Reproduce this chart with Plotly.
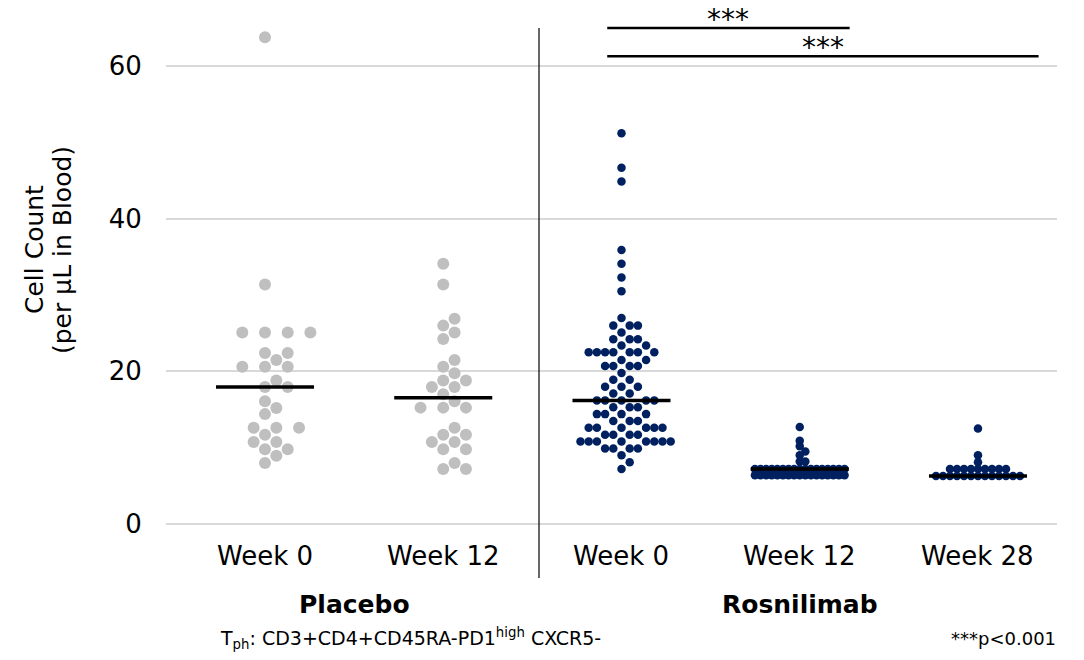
import numpy as np
import plotly.graph_objects as go

# ---- data -------------------------------------------------------------
categories = ["Week 0", "Week 12", "Week 0", "Week 12", "Week 28"]
group_names = ["Placebo", "Rosnilimab"]
group_members = [[0, 1], [2, 3, 4]]

placebo_w0 = [63.8, 31.4, 25.1, 25.1, 25.1, 25.1, 22.4, 22.4, 21.5, 20.6, 20.6,
              20.6, 18.8, 17.95, 17.95, 16.1, 15.2, 14.4, 12.6, 12.6, 12.6, 11.7,
              10.75, 10.75, 9.8, 9.8, 8.95, 8.0]
placebo_w12 = [34.1, 31.4, 26.9, 26.0, 25.1, 24.25, 21.5, 20.6, 19.75, 18.8, 18.8,
               17.95, 17.95, 17.0, 16.1, 15.25, 15.25, 15.25, 12.6, 11.7, 11.7,
               10.75, 10.75, 9.8, 9.8, 8.0, 7.2, 7.2]
rosni_w0 = [51.2, 46.7, 44.9, 35.9, 34.1, 32.3, 30.5, 27.0,
            26.0, 26.0, 26.0, 25.1, 24.2, 24.2, 24.2, 23.4, 23.4,
            22.5, 22.5, 22.5, 22.5, 22.5, 22.5, 22.5, 21.5, 21.5,
            20.7, 20.7, 20.7, 20.7, 19.8, 18.9, 18.9, 18.0, 18.0, 18.0,
            17.1, 17.1, 16.2, 16.2, 16.2, 16.2, 16.2, 15.3, 15.3, 15.3,
            14.4, 14.4, 14.4, 14.4, 13.5, 13.5, 13.5,
            12.6, 12.6, 12.6, 12.6, 12.6, 12.6, 11.7, 11.7, 11.7, 11.7,
            10.8, 10.8, 10.8, 10.8, 10.8, 10.8, 10.8, 10.8,
            9.9, 9.9, 9.9, 9.9, 9.0, 8.1, 7.2]
rosni_w12 = [12.7, 10.9, 10.2, 9.5, 9.0, 8.2, 8.2,
             7.2, 7.2, 7.2, 7.2, 7.2, 7.2, 7.2, 7.2, 7.2, 7.2, 7.2, 7.2, 7.2,
             7.2, 7.2, 7.2, 7.2,
             6.4, 6.4, 6.4, 6.4, 6.4, 6.4, 6.4, 6.4, 6.4, 6.4, 6.4, 6.4, 6.4,
             6.4, 6.4, 6.4, 6.4]
rosni_w28 = [12.5, 9.0, 8.1,
             7.2, 7.2, 7.2, 7.2, 7.2, 7.2, 7.2, 7.2, 7.2,
             6.3, 6.3, 6.3, 6.3, 6.3, 6.3, 6.3, 6.3, 6.3, 6.3, 6.3, 6.3, 6.3]
series = [placebo_w0, placebo_w12, rosni_w0, rosni_w12, rosni_w28]

comparisons = [(2, 3, "***"), (2, 4, "***")]
y_ticks = [0, 20, 40, 60]
y_title_lines = ["Cell Count", "(per µL in Blood)"]

# ---- layout geometry ------------------------------------------------------
W, H = 1084, 660
M = dict(l=166, r=27, t=9, b=120)
X_RANGE = [-0.5554, 4.4433]
Y_RANGE = [-2.1, 67.5]
plot_w = W - M["l"] - M["r"]
plot_h = H - M["t"] - M["b"]
px_per_x = plot_w / (X_RANGE[1] - X_RANGE[0])
px_per_y = plot_h / (Y_RANGE[1] - Y_RANGE[0])

FONT = "DejaVu Sans"
GREY = "#bfbfbf"
NAVY = "#002060"
# per column: colour, marker diameter, slot width (px), minimum centre distance (px)
styles = [
    (GREY, 12, 11.35, 12.5),
    (GREY, 12, 11.35, 12.5),
    (NAVY, 8.5, 8.2, 8.0),
    (NAVY, 8.5, 5.6, 5.0),
    (NAVY, 8.5, 7.0, 5.0),
]


def swarm_offsets(values, slot, min_dist):
    """Greedy beeswarm: place each point on the nearest free horizontal slot."""
    ys = np.asarray(values, dtype=float) * px_per_y
    order = np.argsort(ys, kind="stable")
    placed = []
    offs = np.zeros(len(ys))
    cands = [0]
    for n in range(1, 60):
        cands += [n, -n]
    for i in order:
        for c in cands:
            x = c * slot
            if all((x - px) ** 2 + (ys[i] - py) ** 2 >= min_dist ** 2 for px, py in placed):
                break
        offs[i] = x
        placed.append((x, ys[i]))
    return offs / px_per_x


def paper_x(px):
    return (px - M["l"]) / plot_w


def paper_y(py):
    return (H - M["b"] - py) / plot_h


fig = go.Figure()

for idx, vals in enumerate(series):
    color, size, slot, mind = styles[idx]
    xs = idx + swarm_offsets(vals, slot, mind)
    fig.add_trace(go.Scatter(
        x=xs, y=vals, mode="markers",
        marker=dict(color=color, size=size, line=dict(width=0)),
        showlegend=False, hoverinfo="y", cliponaxis=False,
    ))

# median bars
for idx, vals in enumerate(series):
    med = float(np.median(vals))
    fig.add_trace(go.Scatter(
        x=[idx - 0.275, idx + 0.275], y=[med, med], mode="lines",
        line=dict(color="black", width=3.5), showlegend=False, hoverinfo="skip",
    ))

# significance brackets
bracket_y = [65.0, 61.3]
bracket_ends = [0.28, 0.34]
for (a, b, label), yb, ext in zip(comparisons, bracket_y, bracket_ends):
    x0, x1 = a - 0.08, b + ext
    fig.add_shape(type="line", x0=x0, x1=x1, y0=yb, y1=yb,
                  line=dict(color="black", width=2.5), layer="above")
    fig.add_annotation(x=(x0 + x1) / 2, y=yb, text=label, showarrow=False,
                       yanchor="bottom", yshift=-10,
                       font=dict(family=FONT, size=28, color="black"))

# category labels under each column
for idx, cat in enumerate(categories):
    fig.add_annotation(x=idx, xref="x", y=paper_y(556), yref="paper",
                       yanchor="middle", text=cat, showarrow=False,
                       font=dict(family=FONT, size=26, color="black"))

# group divider
fig.add_shape(type="line", xref="paper", yref="paper",
              x0=paper_x(539), x1=paper_x(539), y0=paper_y(28), y1=paper_y(578),
              line=dict(color="black", width=1.2))

# group labels
for name, members in zip(group_names, group_members):
    fig.add_annotation(x=float(np.mean(members)), xref="x", y=paper_y(604), yref="paper",
                       yanchor="middle", text=f"<b>{name}</b>", showarrow=False,
                       font=dict(family=FONT, size=25, color="black"))

# y axis title, two rotated lines
for line_text, px in zip(y_title_lines, [35, 63]):
    fig.add_annotation(x=paper_x(px), y=paper_y(250), xref="paper", yref="paper",
                       xanchor="center", yanchor="middle",
                       text=line_text, textangle=-90, showarrow=False,
                       font=dict(family=FONT, size=25, color="black"))

# footnotes
fig.add_annotation(x=paper_x(218), y=paper_y(638), xref="paper", yref="paper",
                   xanchor="left", yanchor="middle", showarrow=False,
                   text="T<sub>ph</sub>: CD3+CD4+CD45RA-PD1<sup>high</sup> CXCR5-",
                   font=dict(family=FONT, size=19, color="black"))
fig.add_annotation(x=paper_x(1058), y=paper_y(638), xref="paper", yref="paper",
                   xanchor="right", yanchor="middle", showarrow=False,
                   text="***p&lt;0.001",
                   font=dict(family=FONT, size=18, color="black"))

fig.update_layout(
    width=W, height=H, margin=M,
    paper_bgcolor="white", plot_bgcolor="white",
    font=dict(family=FONT, size=26, color="black"),
    xaxis=dict(range=X_RANGE, showticklabels=False, showgrid=False,
               zeroline=False, showline=False, ticks=""),
    yaxis=dict(range=Y_RANGE, tickvals=y_ticks, showgrid=True, gridcolor="#d9d9d9",
               gridwidth=2, zeroline=False, showline=False,
               ticks="outside", ticklen=18, tickcolor="rgba(0,0,0,0)",
               tickfont=dict(size=26)),
)

fig.write_html("out.html")
